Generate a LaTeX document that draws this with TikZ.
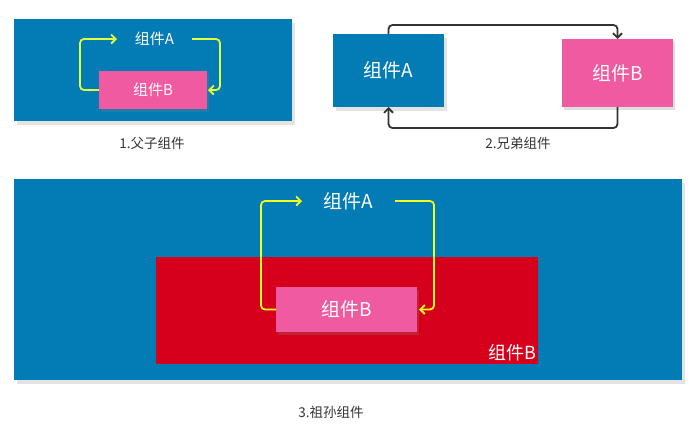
\documentclass[tikz,border=0pt]{standalone}
\usepackage{fontspec}
\setmainfont{Noto Sans CJK SC}
\usetikzlibrary{arrows.meta,shadows}

\definecolor{panelblue}{HTML}{037BB4}
\definecolor{compink}{HTML}{F05AA0}
\definecolor{comred}{HTML}{D7001C}
\definecolor{flowlime}{HTML}{E0FF3C}
\definecolor{flowyellow}{HTML}{F0FF1E}
\definecolor{flowgray}{HTML}{333333}

\begin{document}
\begin{tikzpicture}[x=1pt,y=-1pt,
  every node/.style={inner sep=0pt, outer sep=0pt},
  panel/.style={fill=panelblue, drop shadow={opacity=0.22, shadow xshift=3pt, shadow yshift=-4pt}},
  pinkbox/.style={fill=compink, text=white, drop shadow={opacity=0.25, shadow xshift=2pt, shadow yshift=-3pt}},
  label/.style={text=white},
  caption/.style={text=flowgray, font=\fontsize{13.5}{15}\selectfont},
  flow/.style={line width=1.8pt, rounded corners=4pt, -{Straight Barb[length=4.5pt,width=9pt]}}]

\useasboundingbox (0,0) rectangle (692,424);

% 1. parent / child
\node[panel, minimum width=278pt, minimum height=102pt] (P1) at (153,70) {};
\node[label, minimum width=75pt, font=\fontsize{15}{17}\selectfont] (A1) at (154.5,39) {组件A};
\node[pinkbox, minimum width=108pt, minimum height=38pt, font=\fontsize{15}{17}\selectfont] (B1) at (153,90) {组件B};
\draw[flow, flowlime] (B1.west) -- ++(-19,0) |- (A1.west);
\draw[flow, flowlime] (A1.east) -- ++(28,0) |- ([xshift=1pt]B1.east);
\node[caption] (C1) at (152,143) {1.父子组件};

% 2. siblings
\node[panel, minimum width=111pt, minimum height=73pt, label, font=\fontsize{19}{21}\selectfont] (A2) at (388.5,70.5) {组件A};
\node[pinkbox, minimum width=111pt, minimum height=68pt, font=\fontsize{19}{21}\selectfont] (B2) at (617.5,73) {组件B};
\draw[flow, flowgray] (A2.north) -- ++(0,-9) -| (B2.north);
\draw[flow, flowgray] (B2.south) -- ++(0,21) -| (A2.south);
\node[caption] (C2) at (518,143) {2.兄弟组件};

% 3. ancestor / descendant
\node[panel, minimum width=668pt, minimum height=201pt] (P3) at (348,279.5) {};
\node[fill=comred, minimum width=382pt, minimum height=107pt] (R3) at (347,310.5) {};
\node[label, anchor=south east, font=\fontsize{18}{20}\selectfont] (L3) at ([xshift=-2pt,yshift=3pt]R3.south east) {组件B};
\node[label, minimum width=93pt, font=\fontsize{19}{21}\selectfont] (A3) at (348.5,201) {组件A};
\node[pinkbox, minimum width=141pt, minimum height=45pt, font=\fontsize{19}{21}\selectfont] (B3) at (346.5,309.5) {组件B};
\draw[flow, flowyellow] (B3.west) -- ++(-15,0) |- (A3.west);
\draw[flow, flowyellow] (A3.east) -- ++(39,0) |- ([xshift=2pt]B3.east);
\node[caption] (C3) at (331,412) {3.祖孙组件};
\end{tikzpicture}
\end{document}
